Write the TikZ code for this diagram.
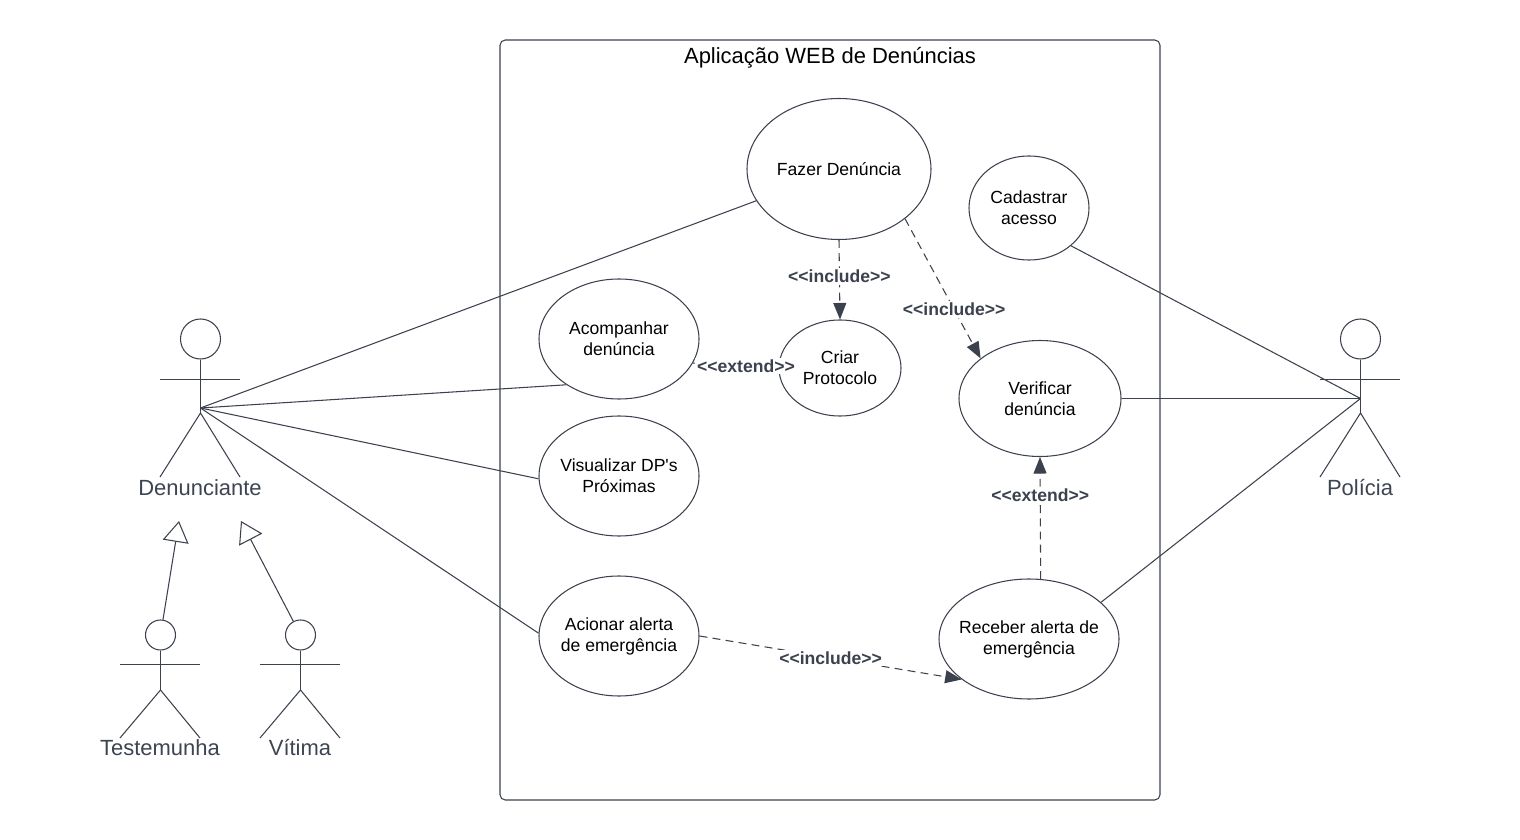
\documentclass[tikz,border=0pt]{standalone}
\usepackage{fontspec}
\setmainfont{Liberation Sans}
\usetikzlibrary{arrows.meta,shapes.geometric}
\definecolor{ucgray}{HTML}{3B414D}
\definecolor{uctext}{HTML}{3D4452}
\tikzset{
    ucase/.style={draw=ucgray, ellipse, line width=0.6pt, inner xsep=-4pt, inner ysep=0pt,
        align=center, font=\fontsize{10}{12}\selectfont, text=black},
    ucline/.style={draw=ucgray, line width=0.6pt},
    ucdashed/.style={draw=ucgray, line width=0.6pt, dash pattern=on 4.5pt off 3pt,
        -{Triangle[length=3.3mm, width=2.6mm]}},
    ucstereo/.style={fill=white, inner sep=1pt, text=ucgray,
        font=\fontsize{10}{12}\selectfont\bfseries},
    ucgen/.style={draw=ucgray, line width=0.6pt,
        -{Triangle[open, length=4.2mm, width=5.2mm, fill=white]}},
    actorhead/.style={draw=ucgray, circle, line width=0.6pt, inner sep=0pt},
    actorlabel/.style={text=uctext, font=\fontsize{12.5}{14}\selectfont}
}
\newcommand{\ucinclude}{{<}{<}include{>}{>}}
\newcommand{\ucextend}{{<}{<}extend{>}{>}}
\begin{document}
\begin{tikzpicture}[x=0.2mm, y=-0.2mm]
    \useasboundingbox (0,0) rectangle (1520,840);

    % system boundary
    \node[draw=ucgray, line width=0.6pt, rounded corners=3pt,
        minimum width=132mm, minimum height=152mm] (system) at (830,420) {};
    \node[font=\fontsize{12.5}{14}\selectfont, text=black] (title) at (830,58)
        {Aplicação WEB de Denúncias};

    % use cases
    \node[ucase, minimum width=36.8mm, minimum height=28.2mm] (fazer) at (839,169)
        {Fazer Denúncia};
    \node[ucase, minimum width=24mm, minimum height=20.8mm] (cadastrar) at (1029,208)
        {Cadastrar\\acesso};
    \node[ucase, minimum width=32mm, minimum height=24mm] (acompanhar) at (619,339)
        {Acompanhar\\denúncia};
    \node[ucase, minimum width=24.4mm, minimum height=19.2mm] (criar) at (840,368)
        {Criar\\Protocolo};
    \node[ucase, minimum width=32.4mm, minimum height=23.2mm] (verificar) at (1040,398.5)
        {Verificar\\denúncia};
    \node[ucase, minimum width=32mm, minimum height=24mm] (visualizar) at (619,476)
        {Visualizar DP\textquotesingle s\\Próximas};
    \node[ucase, minimum width=32mm, minimum height=24mm] (acionar) at (619,636)
        {Acionar alerta\\de emergência};
    \node[ucase, minimum width=36mm, minimum height=24mm] (receber) at (1029,639)
        {Receber alerta de\\emergência};

    % actor Denunciante
    \node[actorhead, minimum size=8mm] (den-head) at (200.5,339) {};
    \coordinate (den-hip) at (200.5,413);
    \coordinate (den) at (200.5,408);
    \draw[ucline] (den-head) -- (den-hip);
    \draw[ucline] (160,379.5) -- (240,379.5);
    \draw[ucline] (160,477) -- (den-hip) -- (240,477);
    \node[actorlabel] (den-label) at (200,488) {Denunciante};

    % actor Testemunha
    \node[actorhead, minimum size=6mm] (tes-head) at (160.5,635) {};
    \coordinate (tes-hip) at (160.5,690);
    \draw[ucline] (tes-head) -- (tes-hip);
    \draw[ucline] (120,664.5) -- (200,664.5);
    \draw[ucline] (120,738) -- (tes-hip) -- (200,738);
    \node[actorlabel] (tes-label) at (160,748) {Testemunha};

    % actor Vitima
    \node[actorhead, minimum size=6mm] (vit-head) at (300.5,635) {};
    \coordinate (vit-hip) at (300.5,690);
    \draw[ucline] (vit-head) -- (vit-hip);
    \draw[ucline] (260,664.5) -- (340,664.5);
    \draw[ucline] (260,738) -- (vit-hip) -- (340,738);
    \node[actorlabel] (vit-label) at (300,748) {Vítima};

    % actor Policia
    \node[actorhead, minimum size=8mm] (pol-head) at (1360.5,339) {};
    \coordinate (pol-hip) at (1360.5,413);
    \coordinate (pol) at (1360.5,398.5);
    \draw[ucline] (pol-head) -- (pol-hip);
    \draw[ucline] (1320,379.5) -- (1400,379.5);
    \draw[ucline] (1320,477) -- (pol-hip) -- (1400,477);
    \node[actorlabel] (pol-label) at (1360,488) {Polícia};

    % generalization
    \coordinate (den-gen-a) at (179,521);
    \coordinate (den-gen-b) at (241,521);
    \draw[ucgen] (tes-head) -- (den-gen-a);
    \draw[ucgen] (vit-head) -- (den-gen-b);

    % associations
    \draw[ucline] (den) -- (fazer.201);
    \draw[ucline] (den) -- (acompanhar.221);
    \draw[ucline] (den) -- (visualizar.182);
    \draw[ucline] (den) -- (acionar.178);
    \draw[ucline] (pol) -- (cadastrar.-42);
    \draw[ucline] (pol) -- (verificar.east);
    \draw[ucline] (pol) -- (receber.27);

    % include / extend
    \draw[ucdashed] (fazer.south) -- node[ucstereo, pos=.46] {\ucinclude} (criar.north);
    \draw[ucdashed] (fazer.-37) -- node[ucstereo, pos=.65] {\ucinclude} (verificar.146);
    \draw[ucdashed] (acompanhar.-18) -- node[ucstereo, pos=.62] {\ucextend} (criar.west);
    \draw[ucdashed] (receber.79) -- node[ucstereo, pos=.69] {\ucextend} (verificar.south);
    \draw[ucdashed] (acionar.east) -- node[ucstereo, pos=.5] {\ucinclude} (receber.211);
\end{tikzpicture}
\end{document}
